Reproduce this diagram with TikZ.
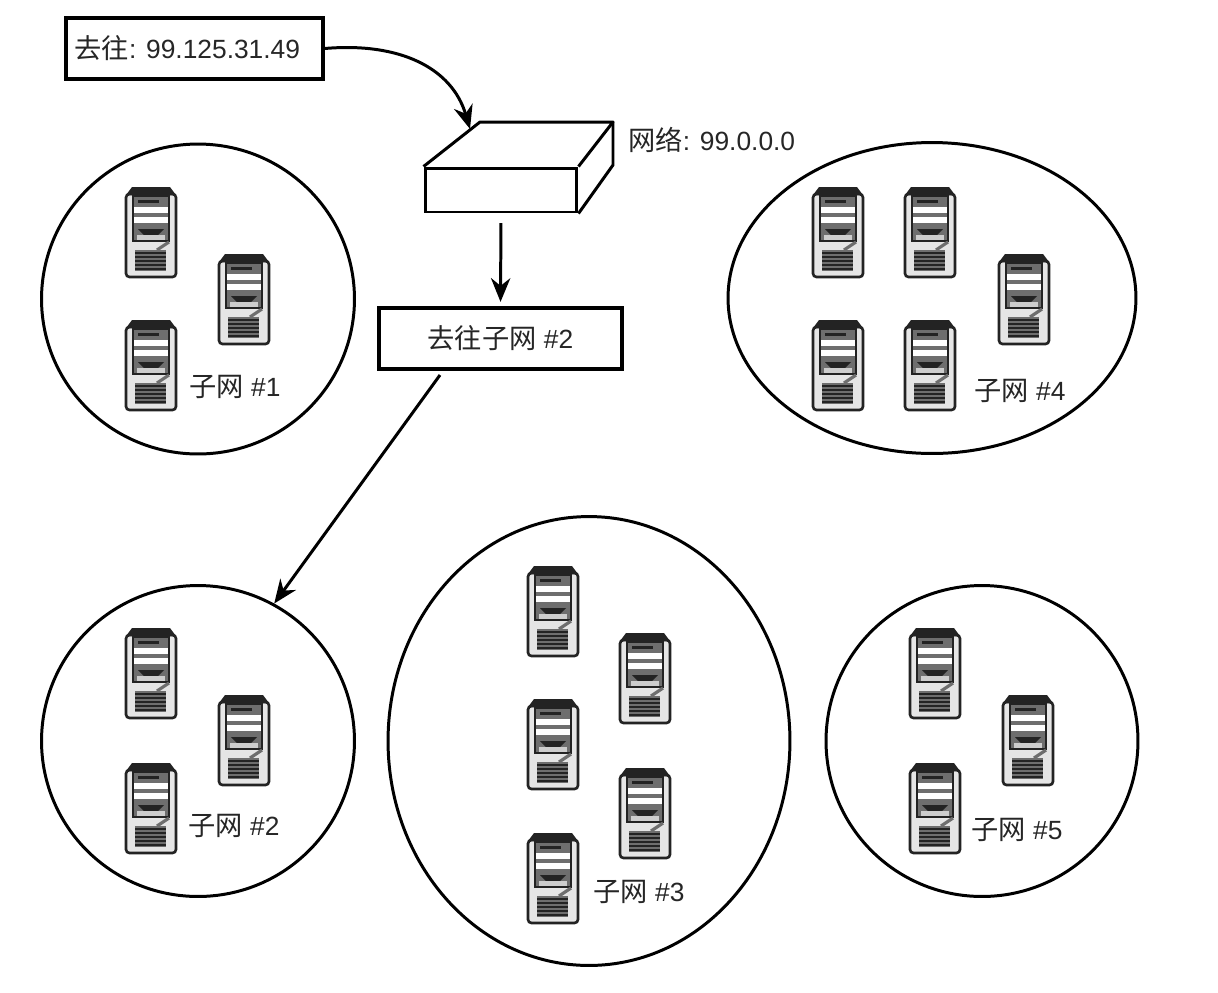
\documentclass[tikz,border=0pt]{standalone}
\usepackage{fontspec}
\setmainfont{Liberation Sans}
\newfontfamily\cjk{Noto Sans CJK SC}
\usetikzlibrary{shapes.geometric, arrows.meta, positioning}
\definecolor{InkDark}{RGB}{35,35,35}
\definecolor{PanelGray}{RGB}{205,205,205}
\definecolor{BayGray}{RGB}{110,110,110}
\newcommand{\zh}[1]{{\cjk\fontsize{15.5}{17}\selectfont #1}}

\tikzset{
  server/.pic={
    \draw[InkDark, line width=1.5pt, rounded corners=2pt, fill=PanelGray!50] (-25,-38) rectangle (25,45);
    \fill[InkDark] (-25,-37) -- (-19,-45) -- (19,-45) -- (25,-37) -- cycle;
    \fill[BayGray, draw=InkDark, line width=0.8pt] (-18,-36) rectangle (18,9);
    \fill[InkDark] (-13,-32) rectangle (8,-29);
    \fill[white] (-17,-25) rectangle (17,-19);
    \fill[white] (-17,-15) rectangle (17,-9);
    \fill[InkDark] (-13,-3) -- (13,-3) -- (7,3) -- (-7,3) -- cycle;
    \fill[PanelGray] (-14,3) rectangle (14,8);
    \fill[white!90!black] (-21,11) rectangle (21,42);
    \fill[BayGray] (-16,18) rectangle (15,39);
    \draw[BayGray, line width=1.8pt] (6,18) -- (18,10);
    \foreach \stripey in {21,25,29,33,37}
      \draw[InkDark, line width=0.7pt] (-16,\stripey) -- (15,\stripey);
  }
}

\begin{document}
\begin{tikzpicture}[
    x=0.02cm, y=-0.02cm,
    every node/.style={font=\fontsize{15}{17}\selectfont, text=black!85},
    subnet/.style={ellipse, draw=black, line width=1.7pt, fill=white, inner sep=0pt},
    msgbox/.style={rectangle, draw=black, line width=2pt, fill=white, inner sep=0pt},
    caption/.style={inner sep=0pt},
    devline/.style={draw=black, line width=1.7pt, line join=round},
    arrow/.style={-{Stealth[length=13.5pt,width=11pt]}, line width=1.7pt, black}
  ]
  \useasboundingbox (0,0) rectangle (1218,992);

  % subnets
  \node (sub1) [subnet, minimum width=6.26cm, minimum height=6.2cm] at (198,299) {};
  \node (sub4) [subnet, minimum width=8.16cm, minimum height=6.22cm] at (932,298) {};
  \node (sub2) [subnet, minimum width=6.26cm, minimum height=6.22cm] at (198,741) {};
  \node (sub3) [subnet, minimum width=8.04cm, minimum height=8.98cm] at (589,741) {};
  \node (sub5) [subnet, minimum width=6.24cm, minimum height=6.22cm] at (982,741) {};

  \pic at (151,232) {server};
  \pic at (244,299) {server};
  \pic at (151,365) {server};

  \pic at (838,232) {server};
  \pic at (930,232) {server};
  \pic at (1024,299) {server};
  \pic at (838,365) {server};
  \pic at (930,365) {server};

  \pic at (151,673) {server};
  \pic at (244,740) {server};
  \pic at (151,808) {server};

  \pic at (553,611) {server};
  \pic at (645,678) {server};
  \pic at (553,744) {server};
  \pic at (645,813) {server};
  \pic at (553,878) {server};

  \pic at (935,673) {server};
  \pic at (1028,740) {server};
  \pic at (935,808) {server};

  \node (label1) [caption] at (235,387) {\zh{子网} \#1};
  \node (label4) [caption] at (1020,391) {\zh{子网} \#4};
  \node (label2) [caption] at (234,826) {\zh{子网} \#2};
  \node (label3) [caption] at (639,892) {\zh{子网} \#3};
  \node (label5) [caption] at (1017,830) {\zh{子网} \#5};

  % router
  \node (devfront) [msgbox, line width=1.7pt, minimum width=3.04cm, minimum height=0.88cm] at (501,190) {};
  \coordinate (devback) at (480,122);
  \coordinate (devedge) at (613,122);
  \coordinate (devside) at (613,165);
  \draw [devline] (devfront.north west) -- (devback) -- (devedge) -- (devfront.north east);
  \draw [devline] (devedge) -- (devside) -- (devfront.south east);
  \coordinate (devtip) at (470,129);
  \node (netlabel) [caption, anchor=west] at (628,140) {\zh{网络}: 99.0.0.0};

  % boxes
  \node (dest) [msgbox, minimum width=5.14cm, minimum height=1.22cm] at (194.5,48.5) {};
  \node (desttext) [caption, right=0.2cm of dest.west] {\zh{去往}: 99.125.31.49};
  \node (goto) [msgbox, minimum width=4.86cm, minimum height=1.22cm] at (500.5,338.5) {\zh{去往子网} \#2};
  \coordinate (gotofoot) at (440,375);

  \draw [arrow] (dest.east) .. controls (400,42) and (452,68) .. (devtip);
  \draw [arrow, shorten <=5.5pt, shorten >=2.5pt] (devfront.south) -- (goto.north);
  \draw [arrow] (gotofoot) -- (sub2.61);
\end{tikzpicture}
\end{document}
